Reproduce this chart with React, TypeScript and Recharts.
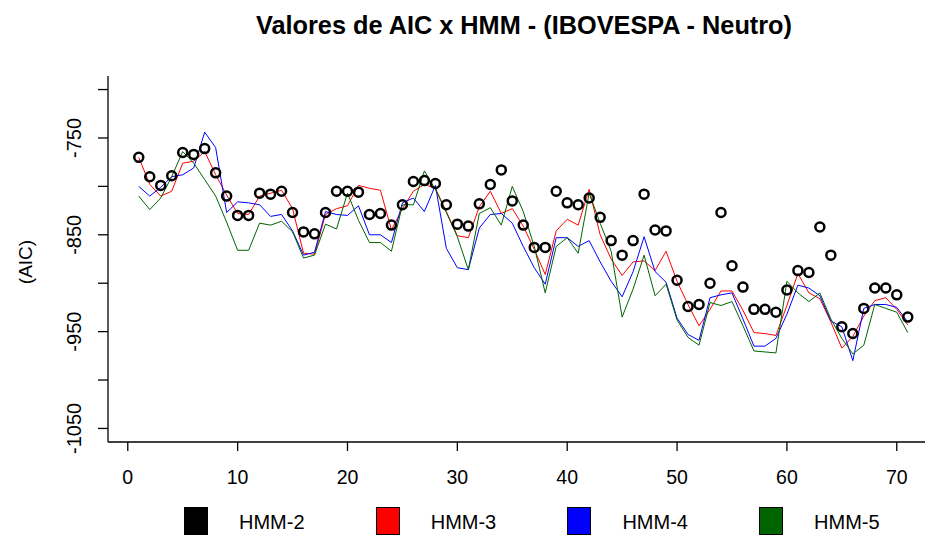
import { ComposedChart, Line, XAxis, YAxis } from "recharts";

// AIC values per window (1..71)
const hmm2 = [
  -770, -790, -799, -789, -765, -767, -761, -786, -810, -830,
  -830, -807, -808, -805, -827, -847, -849, -827, -805, -805,
  -806, -829, -828, -840, -819, -795, -794, -797, -819, -839,
  -841, -818, -798, -783, -815, -840, -863, -863, -805, -817,
  -819, -812, -832, -856, -871, -856, -808, -845, -846, -897,
  -924, -922, -900, -827, -882, -904, -927, -927, -930, -907,
  -887, -889, -842, -871, -945, -952, -926, -905, -905, -912,
  -935,
];
const hmm3 = [
  -770, -798, -810, -805, -776, -774, -764, -788, -809, -828,
  -829, -810, -807, -804, -823, -869, -870, -829, -823, -820,
  -799, -802, -804, -845, -823, -805, -798, -802, -826, -851,
  -853, -821, -805, -828, -823, -841, -865, -891, -846, -834,
  -840, -803, -850, -875, -892, -878, -877, -887, -867, -898,
  -922, -944, -927, -908, -908, -928, -951, -952, -954, -923,
  -890, -910, -916, -940, -967, -955, -934, -918, -915, -927,
  -943,
];
const hmm4 = [
  -800, -810, -801, -790, -788, -781, -744, -760, -827, -816,
  -817, -819, -831, -829, -846, -871, -868, -826, -829, -830,
  -820, -850, -850, -858, -817, -812, -826, -799, -864, -884,
  -886, -843, -829, -828, -838, -862, -884, -901, -853, -853,
  -862, -856, -878, -898, -914, -888, -852, -888, -899, -936,
  -953, -959, -915, -912, -910, -937, -965, -965, -957, -932,
  -902, -905, -913, -939, -945, -980, -926, -922, -922, -925,
  -940,
];
const hmm5 = [
  -810, -824, -812, -790, -764, -776, -793, -810, -837, -866,
  -866, -838, -840, -836, -847, -874, -871, -839, -844, -807,
  -835, -858, -858, -867, -819, -819, -784, -803, -827, -852,
  -886, -828, -822, -840, -800, -826, -862, -910, -862, -853,
  -869, -807, -838, -867, -935, -906, -871, -913, -901, -938,
  -956, -964, -920, -923, -919, -944, -970, -971, -972, -898,
  -910, -919, -910, -937, -957, -973, -964, -922, -926, -930,
  -951,
];

const xTicks = [0, 10, 20, 30, 40, 50, 60, 70];
const yTicks = [-1050, -1000, -950, -900, -850, -800, -750, -700];
const yLabeled = [-1050, -950, -850, -750];

const legendNames = ["HMM-2", "HMM-3", "HMM-4", "HMM-5"];
const legendColors = ["#000000", "#ff0000", "#0000ff", "#006400"];

const data = hmm2.map((v, i) => ({
  t: i + 1,
  hmm2: v,
  hmm3: hmm3[i],
  hmm4: hmm4[i],
  hmm5: hmm5[i],
}));

const FONT = "'Liberation Sans', Arial, sans-serif";

const YTick = ({ x, y, payload }: any) => {
  if (!yLabeled.includes(payload.value)) return null;
  const bx = x - 15;
  return (
    <text
      x={bx}
      y={y}
      transform={`rotate(-90 ${bx} ${y})`}
      textAnchor="middle"
      fontSize={20}
      fontFamily={FONT}
      fill="#000"
    >
      {payload.value}
    </text>
  );
};

const XTick = ({ x, y, payload }: any) => (
  <text x={x} y={y + 31} textAnchor="middle" fontSize={19.5} fontFamily={FONT} fill="#000">
    {payload.value}
  </text>
);

const AicLabel = ({ viewBox }: any) => {
  const cx = 32;
  const cy = viewBox.y + viewBox.height / 2 + 3;
  return (
    <text
      x={cx}
      y={cy}
      transform={`rotate(-90 ${cx} ${cy})`}
      textAnchor="middle"
      fontSize={19}
      fontFamily={FONT}
      fill="#000"
    >
      (AIC)
    </text>
  );
};

export default function App() {
  return (
    <div
      style={{
        position: "absolute",
        left: 0,
        top: 0,
        width: 925,
        height: 538,
        background: "#fff",
        fontFamily: FONT,
      }}
    >
      <div
        style={{
          position: "absolute",
          left: 108,
          top: 8,
          width: 832,
          textAlign: "center",
          fontSize: 25.3,
          fontWeight: "bold",
          lineHeight: "34px",
          color: "#000",
        }}
      >
        Valores de AIC x HMM - (IBOVESPA - Neutro)
      </div>

      <ComposedChart
        width={925}
        height={538}
        data={data}
        margin={{ top: 76, right: 0, bottom: 0, left: 0 }}
      >
        <XAxis
          type="number"
          dataKey="t"
          domain={[-1.8, 72.57]}
          ticks={xTicks}
          allowDataOverflow
          height={96}
          tickSize={9}
          axisLine={{ stroke: "#000", strokeWidth: 1.3 }}
          tickLine={{ stroke: "#000", strokeWidth: 1.3 }}
          tick={<XTick />}
          interval={0}
        />
        <YAxis
          type="number"
          domain={[-1064, -686]}
          ticks={yTicks}
          allowDataOverflow
          width={108}
          tickSize={10}
          axisLine={{ stroke: "#000", strokeWidth: 1.3 }}
          tickLine={{ stroke: "#000", strokeWidth: 1.3 }}
          tick={<YTick />}
          interval={0}
          label={<AicLabel />}
        />
        <Line
          dataKey="hmm2"
          stroke="none"
          isAnimationActive={false}
          dot={{ r: 4.5, stroke: "#000", strokeWidth: 2.5, fill: "none" }}
          activeDot={false}
        />
        <Line
          dataKey="hmm3"
          stroke="#ff0000"
          strokeWidth={1}
          dot={false}
          isAnimationActive={false}
          type="linear"
        />
        <Line
          dataKey="hmm4"
          stroke="#0000ff"
          strokeWidth={1}
          dot={false}
          isAnimationActive={false}
          type="linear"
        />
        <Line
          dataKey="hmm5"
          stroke="#006400"
          strokeWidth={1}
          dot={false}
          isAnimationActive={false}
          type="linear"
        />
      </ComposedChart>

      {legendNames.map((name, i) => (
        <div
          key={name}
          style={{ position: "absolute", left: 184 + i * 191.7, top: 507, height: 29 }}
        >
          <div
            style={{
              position: "absolute",
              left: 0,
              top: 0,
              width: 24,
              height: 28,
              background: legendColors[i],
              border: "1px solid #000",
              boxSizing: "border-box",
            }}
          />
          <div
            style={{
              position: "absolute",
              left: 55,
              top: 3,
              fontSize: 20,
              lineHeight: "24px",
              whiteSpace: "nowrap",
              color: "#000",
            }}
          >
            {name}
          </div>
        </div>
      ))}
    </div>
  );
}
